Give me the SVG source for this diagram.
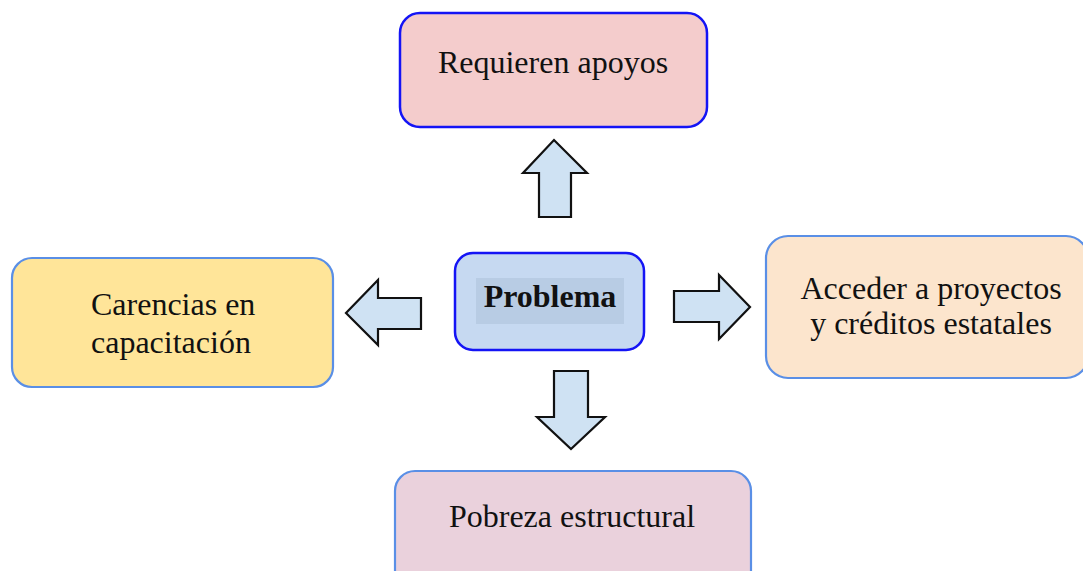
<svg xmlns="http://www.w3.org/2000/svg" width="1083" height="571" viewBox="0 0 1083 571">
<style>
.box{stroke-width:2.5}
.strong{stroke:#1414f5}
.soft{stroke:#5a8fe6;stroke-width:2.2}
.t{font-family:"Liberation Serif","Times New Roman",serif;font-size:32px;fill:#111}
.c{text-anchor:middle}
.arrow{fill:#cfe2f3;stroke:#111;stroke-width:2.2;stroke-linejoin:miter}
</style>
<rect width="1083" height="571" fill="#ffffff"/>
<g id="node-requieren">
<rect class="box strong" x="400" y="13" width="307" height="114" rx="20" fill="#f4cccc"/>
<text class="t c" x="553" y="73">Requieren apoyos</text>
</g>
<g id="node-problema">
<rect class="box strong" x="455" y="253" width="189" height="97" rx="18" fill="#c6d9f1"/>
<rect x="476" y="278" width="148" height="46" fill="#b8cce4"/>
<text class="t c" x="550" y="307" font-weight="bold">Problema</text>
</g>
<g id="node-carencias">
<rect class="box soft" x="12" y="258" width="321" height="129" rx="20" fill="#ffe599"/>
<text class="t" x="91" y="315">Carencias en</text>
<text class="t" x="91" y="353">capacitación</text>
</g>
<g id="node-acceder">
<rect class="box soft" x="766" y="236" width="322" height="142" rx="22" fill="#fce5cd"/>
<text class="t c" x="931" y="299">Acceder a proyectos</text>
<text class="t c" x="931" y="334">y créditos estatales</text>
</g>
<g id="node-pobreza">
<rect class="box soft" x="395" y="471" width="356" height="120" rx="20" fill="#ead1dc"/>
<text class="t c" x="572" y="527">Pobreza estructural</text>
</g>
<g id="connectors">
<polygon class="arrow" points="539,217 539,173 523,173 554,140 587,173 571,173 571,217"/>
<polygon class="arrow" points="421,298 378,298 378,280 346,313 378,345 378,329 421,329"/>
<polygon class="arrow" points="674,291 719,291 719,275 750,307 719,339 719,322 674,322"/>
<polygon class="arrow" points="554,371 588,371 588,417 605,417 571,449 537,417 554,417"/>
</g>
</svg>
